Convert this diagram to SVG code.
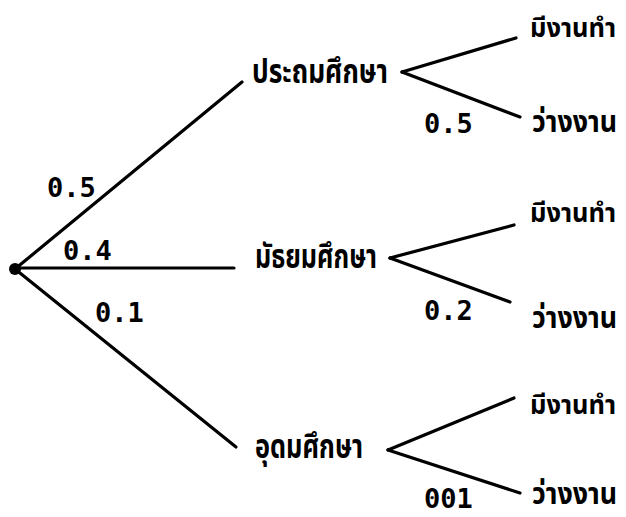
<svg xmlns="http://www.w3.org/2000/svg" width="626" height="517" viewBox="0 0 626 517">
<style>
.ln{stroke:#000;stroke-width:3.2;fill:none;stroke-linecap:round}
.th{font-family:"Noto Sans Thai","Noto Sans","DejaVu Sans",sans-serif;font-weight:bold;font-size:34px;fill:#000}
.tr{font-family:"Noto Sans Thai","Noto Sans","DejaVu Sans",sans-serif;font-weight:bold;font-size:30px;fill:#000}
.te{font-family:"Noto Sans Thai","Noto Sans","DejaVu Sans",sans-serif;font-weight:bold;font-size:27px;fill:#000}
.nm{font-family:"DejaVu Sans Mono","Liberation Mono",monospace;font-weight:bold;font-size:27px;fill:#000}
</style>
<rect width="626" height="517" fill="#fff"/>
<g id="connectors">
<line class="ln" x1="15" y1="269" x2="242" y2="82"/>
<line class="ln" x1="15" y1="268" x2="234" y2="268"/>
<line class="ln" x1="15" y1="269" x2="236" y2="447"/>
<line class="ln" x1="402" y1="72" x2="516" y2="38"/>
<line class="ln" x1="402" y1="72" x2="520" y2="117"/>
<line class="ln" x1="390" y1="258" x2="514" y2="225"/>
<line class="ln" x1="390" y1="258" x2="510" y2="302"/>
<line class="ln" x1="388" y1="450" x2="514" y2="398"/>
<line class="ln" x1="388" y1="450" x2="520" y2="493"/>
</g>
<g id="root"><circle cx="15" cy="269" r="6" fill="#000"/></g>
<g id="labels">
<text class="nm" x="47" y="197">0.5</text>
<text class="nm" x="63" y="260">0.4</text>
<text class="nm" x="95" y="322">0.1</text>
<text class="nm" x="424" y="133">0.5</text>
<text class="nm" x="424" y="320">0.2</text>
<text class="nm" x="424" y="508">001</text>
</g>
<g id="n-primary"><text class="th" x="252" y="83" textLength="136" lengthAdjust="spacingAndGlyphs">ประถมศึกษา</text></g>
<g id="n-secondary"><text class="th" x="255" y="268" textLength="122" lengthAdjust="spacingAndGlyphs">มัธยมศึกษา</text></g>
<g id="n-higher"><text class="th" x="255" y="458" textLength="108" lengthAdjust="spacingAndGlyphs">อุดมศึกษา</text></g>
<g id="n-p-emp"><text class="te" x="530" y="37" textLength="86" lengthAdjust="spacingAndGlyphs">มีงานทำ</text></g>
<g id="n-p-unemp"><text class="tr" x="532" y="132" textLength="85" lengthAdjust="spacingAndGlyphs">ว่างงาน</text></g>
<g id="n-s-emp"><text class="te" x="530" y="222" textLength="86" lengthAdjust="spacingAndGlyphs">มีงานทำ</text></g>
<g id="n-s-unemp"><text class="tr" x="532" y="328" textLength="85" lengthAdjust="spacingAndGlyphs">ว่างงาน</text></g>
<g id="n-h-emp"><text class="te" x="530" y="414" textLength="86" lengthAdjust="spacingAndGlyphs">มีงานทำ</text></g>
<g id="n-h-unemp"><text class="tr" x="532" y="504" textLength="85" lengthAdjust="spacingAndGlyphs">ว่างงาน</text></g>
</svg>
